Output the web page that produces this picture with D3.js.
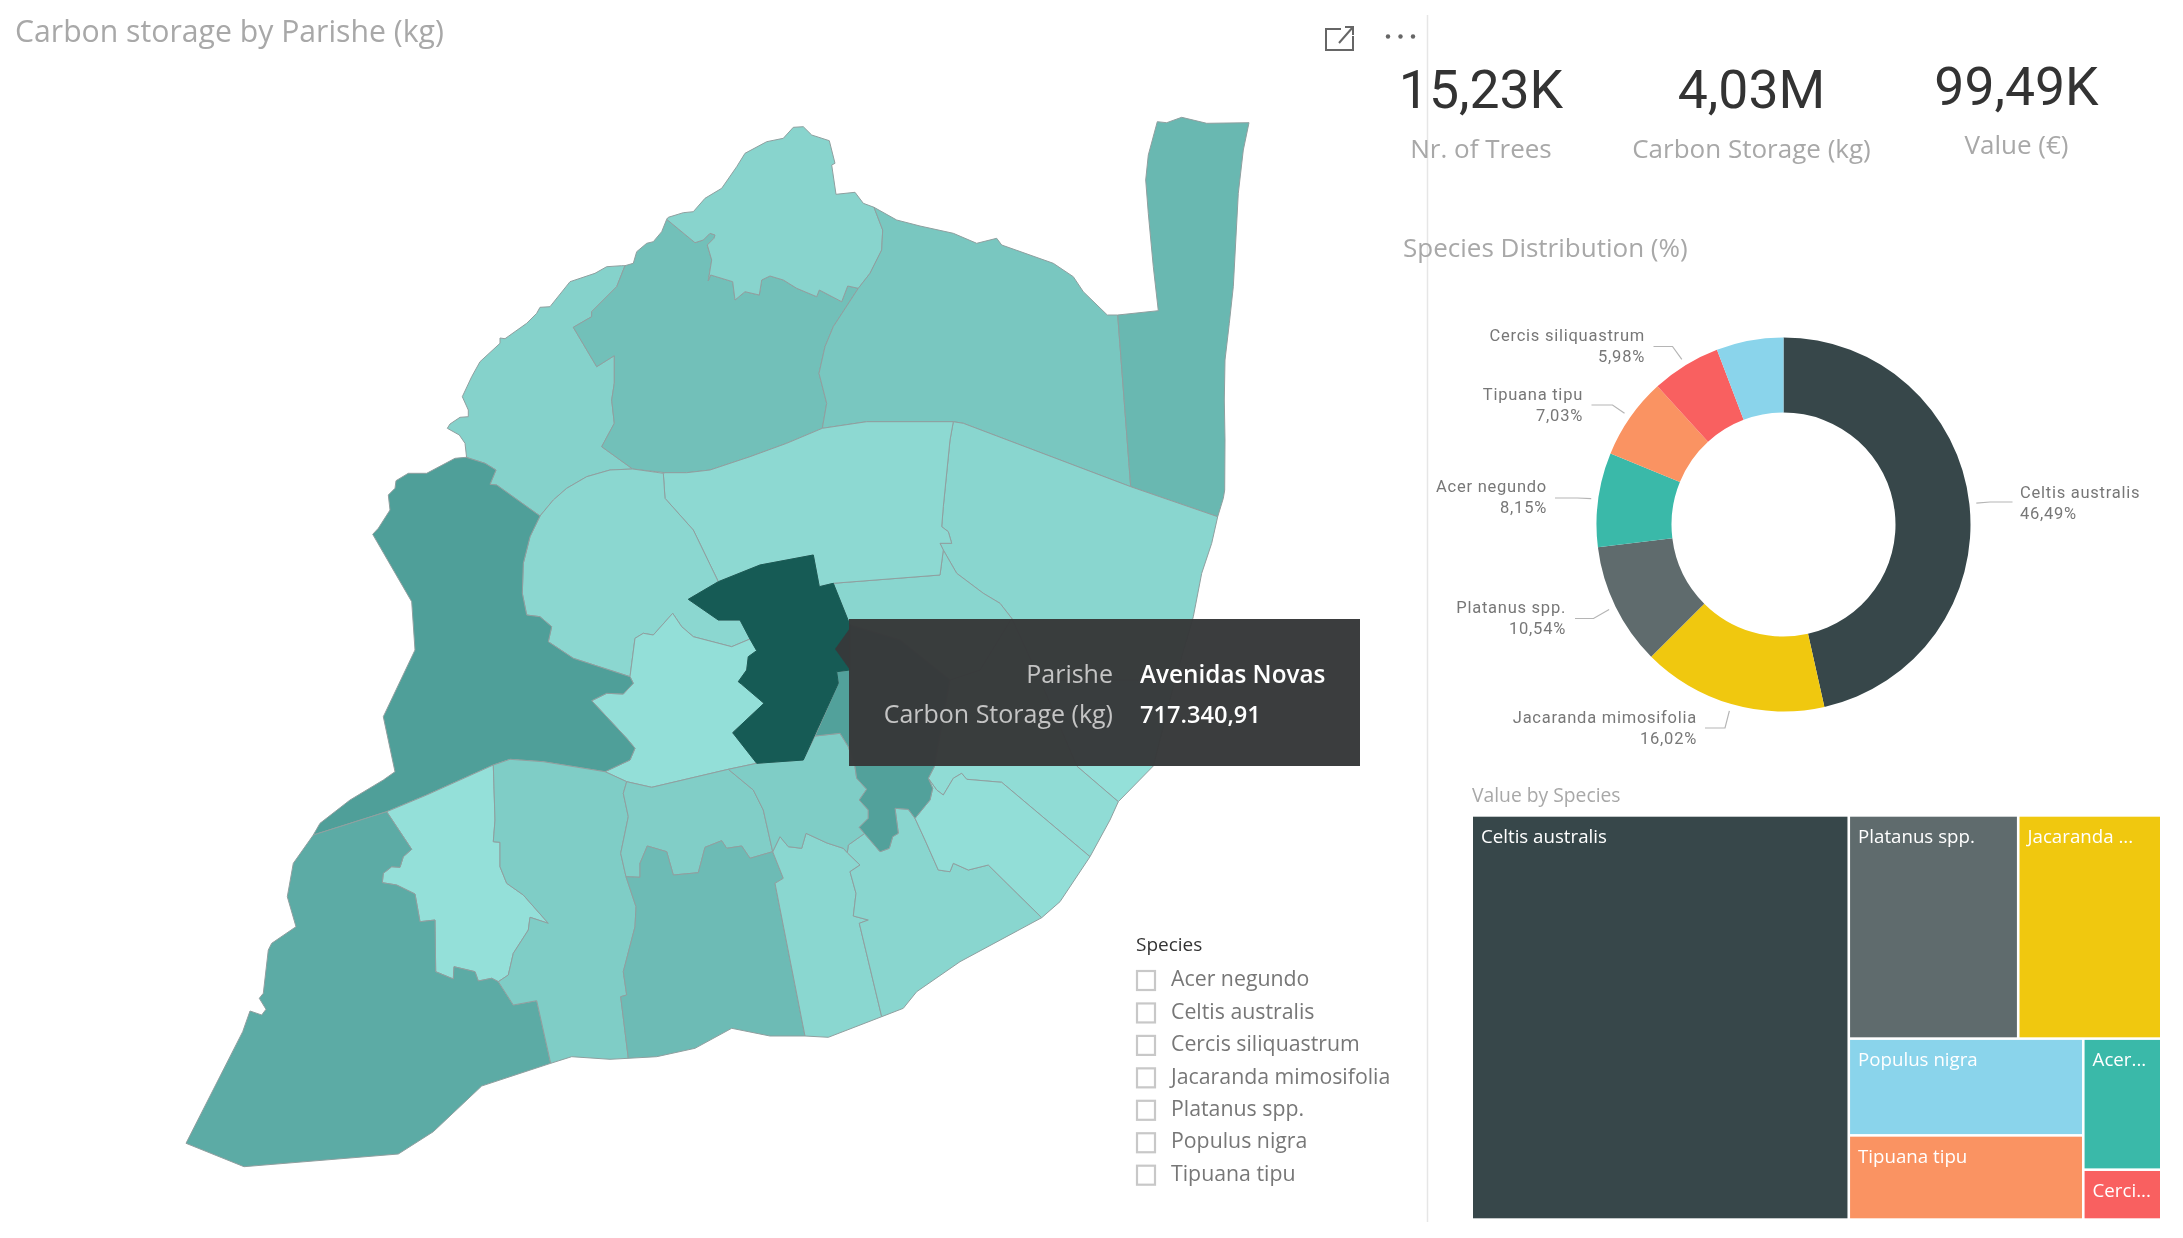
<!DOCTYPE html>
<html><head><meta charset="utf-8">
<style>html,body{margin:0;background:#fff}svg{display:block;filter:blur(.45px)}</style>
<script src="https://cdn.jsdelivr.net/npm/d3@7"></script></head><body><svg id="c" width="2183" height="1238"></svg>
<script>
// ---------- data ----------
const kpiValues=["15,23K","4,03M","99,49K"];
const kpiLabels=["Nr. of Trees","Carbon Storage (kg)","Value (€)"];
const species=["Acer negundo","Celtis australis","Cercis siliquastrum","Jacaranda mimosifolia","Platanus spp.","Populus nigra","Tipuana tipu"];
const donutSpecies=["Celtis australis","Jacaranda mimosifolia","Platanus spp.","Acer negundo","Tipuana tipu","Cercis siliquastrum","Populus nigra"];
const donutShare=[46.49,16.02,10.54,8.15,7.03,5.98,5.79];
const donutText=["46,49%","16,02%","10,54%","8,15%","7,03%","5,98%",""];
const speciesColors=["#37474a","#f0c80f","#5f6b6d","#3ab9a9","#fa9362","#f96060","#8ad4eb"];
const treeValues={"Celtis australis":54.4,"Platanus spp.":13.5,"Jacaranda mimosifolia":11.4,"Populus nigra":8.1,"Tipuana tipu":7.05,"Acer negundo":3.65,"Cercis siliquastrum":1.39};
const treeLabels={"Celtis australis":"Celtis australis","Platanus spp.":"Platanus spp.","Jacaranda mimosifolia":"Jacaranda ...","Populus nigra":"Populus nigra","Tipuana tipu":"Tipuana tipu","Acer negundo":"Acer...","Cercis siliquastrum":"Cerci..."};

// shared parish boundaries, in map units
const rev=a=>a.slice().reverse();
const carCoast=[[466.7,458.3],[465,443.3],[459.3,435],[447.3,428.3],[450,424],[460,417.3],[468.3,416.7],[468.3,410],[462.3,396.7],[471.7,376.7],[480,361.7],[500,343.3],[500,338],[505,338.7],[526.7,323.3],[536.7,313.3],[540,307.3],[550,306.7],[570,281.7],[595,273.3],[606.7,266.7],[621.7,265.7],[625,265.7]];
const carLum=[[625,265.7],[616.7,286.7],[591.7,311.7],[591.7,316.7],[573.3,327.3],[596.7,366.7],[614.3,355.7],[614.3,383.3],[611.7,400],[614.3,423.3],[601.7,446.7],[632.7,469]];
const carSdb=[[632.7,469],[610,470],[586.7,476.7],[566.7,488.3],[553.3,500],[540,516]];
const carBen=[[540,516],[496.7,485],[490,484.3],[496,470],[485,463.3],[466,457.3]];
const lumCoast=[[625,265.7],[633.3,263.3],[636.7,251.7],[646.7,243.3],[653.3,241.7],[661.7,231.7],[666.7,219.3]];
const lumSc=[[666.7,219.3],[695,242.7],[703.3,240],[710,233.3],[715,235],[714,238.3],[707.3,245],[711.7,260],[708.3,280.7],[710.7,275],[732.7,281.7],[735,300],[745,291.7],[759.3,295],[761.7,280],[770,276],[783.3,280],[796.7,288.3],[816.7,296.7],[819.3,290],[841.7,301.7],[847.7,286],[858.3,288.3]];
const lumOl=[[858.3,288.3],[833.3,326.7],[825,346.7],[819,373.3],[826.7,403.3],[822.3,428.3]];
const lumAlv=[[822.3,428.3],[786.7,443.3],[750,456.7],[710,470],[686.7,472.7],[665,472.7]];
const scCoast=[[666.7,219.3],[668.3,217.3],[683.3,212.7],[693.3,211.7],[705,198.3],[721.7,188.3],[736.7,166.7],[745,153.3],[766.7,141.7],[783.3,138.3],[793.3,127.3],[803.3,126.7],[811.7,135],[829.3,140.7],[835,163.3],[831.7,165],[836,194.3],[855,192.3],[863.3,203.3],[874,207.3]];
const scOl=[[874,207.3],[882.7,230],[881.7,250],[870,273.3],[858.3,288.3]];
const olCoast=[[874,207.3],[896.7,220],[920,226],[953.3,233.3],[976.7,243.3],[996.7,238.3],[1001.7,245],[1053.3,263.3],[1073.3,276.7],[1083.3,291.7],[1107.3,315]];
const olPn=[[1107.3,315],[1117.7,315],[1130.7,486.7]];
const olAlv=[[1130.7,486.7],[963.3,423.3],[953.3,421.7],[866.7,421.7],[822.3,428.3]];
const alvMar=[[953.3,421.7],[950,440],[943.3,506.7],[941.7,526.7],[948.3,531.7],[951.7,543.3],[940,543.3],[943.3,550]];
const marAre=[[943.3,550],[956.7,573.3],[983.3,593.3],[1000,603.3],[1011.7,618.3]];
const alvAre=[[943.3,550],[940,575],[833.3,583.3],[819.3,586.7]];
const avTop=[[819.3,586.7],[813.3,555],[760,565],[718.3,581.7]];
const alvSdb=[[718.3,581.7],[693.3,530],[665,498.3],[663.3,473.3],[665,472.7]];
const avSdb=[[718.3,581.7],[688.3,599.3],[718.3,620],[740,620],[750,639]];
const sdbCam=[[750,639],[731.7,646.7],[693.3,636.7],[681.7,626.7],[672.7,613.3],[653.3,635],[643.3,633.3],[635,638.3],[630,676.7]];
const sdbBen=[[630,676.7],[573.3,658.3],[548.3,641.7],[551.7,626.7],[540,616.7],[526.7,615],[522.3,593.3],[523.3,563.3],[530,536.7],[540,516]];
const camBen=[[630,676.7],[633.3,683.3],[623.3,694],[606.7,693.3],[591.7,700.7],[626.7,738.3],[635,748.3],[630,760],[605,771.7]];
const camAv=[[750,639],[756.7,650.7],[748.3,656.7],[746.7,670],[738.3,681.7],[741.7,684.3],[764,703.3],[732.7,732.7],[756.7,763.3]];
const camSouth=[[605,771.7],[626.7,781.7],[651.7,787.3],[728.3,769.3],[756.7,763.3]];
const benSouth=[[605,771.7],[543.3,761.7],[510,759.3],[493.3,765],[460,780],[426.7,795],[386.7,811.7],[313.3,835]];
const benWest=[[313.3,835],[320,823.3],[350,800],[383.3,780],[395,771.7],[383.3,716.7],[415,650],[411.7,601.7],[372.7,534.3],[378.3,528.3],[390,510],[388.3,495],[395,488.3],[396,480.7],[408.3,473.3],[426.7,473.3],[455,458.3],[466,457.3]];
const ajuBel=[[386.7,811.7],[411.7,849.3],[403.3,856.7],[400,867.3],[391.7,866.7],[383.3,873.3],[382.3,882.7],[396.7,885],[415,894],[420,921.7],[435,920],[435.7,971.7],[453.3,979],[454,966.7],[475,971.7],[478.3,981],[491.7,978.3],[498.3,981.7]];
const ajuAlc=[[498.3,981.7],[508.3,975],[513.3,953.3],[528.3,930],[530,917.3],[548.3,923.3],[523.3,895],[506.7,883.3],[500,866.7],[500,842.3],[493.3,841.7],[495,820],[493.3,765]];
const alcCo=[[626.7,781.7],[623.3,793.3],[628.3,816.7],[620.7,853.3],[626,876.7]];
const alcEs=[[626,876.7],[636,906.7],[635,926.7],[623.3,971.7],[626.7,995],[620.7,996.7],[628.3,1058.3]];
const coEs=[[626,876.7],[640,877.3],[640,863.3],[647.3,846],[666.7,851.7],[673.3,875],[698.3,872.7],[705,847.3],[721.7,840.7],[726.7,848.3],[741.7,846],[750,858.3],[772.7,851.7]];
const coSa=[[772.7,851.7],[763.3,810],[753.3,790],[728.3,769.3]];
const saMi=[[772.7,851.7],[780,836.7],[788.3,846.7],[801.7,848.3],[806,833.3],[827,843],[843.3,848.3],[847.3,852.7]];
const miEs=[[772.7,851.7],[783.3,878.3],[775,883.3],[805,1036]];
const miSm=[[847.3,852.7],[860,865],[850,871.7],[856,893.3],[853.3,916],[868.3,920],[859.3,923.3],[881.7,1016.7]];
const smVi=[[915,818.3],[925,840],[938.3,870],[950,871.7],[953.3,863.3],[968.3,870],[988.3,865],[1041.7,917.7]];
const viPe=[[928.3,778.3],[936.7,790],[943.3,795],[953.3,778.3],[961.7,773.3],[966.7,779.3],[1001.7,782.3],[1090,856.7]];
const arrSa=[[815,736],[840,733.3],[848.3,746.7],[855,766.7],[856.7,778.3],[866.7,789.3],[859.3,800],[868.3,810],[868.3,818.3],[859.3,827.3],[864.5,833.5]];
const arrSm=[[864.5,833.5],[880,851.7],[889.3,848.3],[892.7,836.7],[898.3,833.3],[895,808.3],[908.3,809.3],[915,818.3]];
const arrVi=[[915,818.3],[930,800],[932.7,788.3],[928.3,778.3]];
const arrPe=[[928.3,778.3],[934.3,766.7],[950,680],[900,640],[850,625]];

const parishNames=["Carnide","Lumiar","Santa Clara","Olivais","Parque das Nações","Marvila","Beato","Penha de França","Areeiro","Alvalade","São Domingos de Benfica","Campolide","Benfica","Ajuda","Belém","Alcântara","Campo de Ourique","Estrela","Misericórdia","Santa Maria Maior","São Vicente","Santo António","Arroios","Avenidas Novas"];
const parishValues=[100000,165000,90000,140000,200000,85000,48000,62000,85000,72000,80000,52000,300000,48000,250000,118000,112000,185000,82000,85000,55000,118000,290000,717340.91];
const parishRings=[
 [...carCoast,...carLum,...carSdb,...carBen],
 [...lumCoast,...lumSc,...lumOl,...lumAlv,[632.7,469],...rev(carLum)],
 [...scCoast,...scOl,...rev(lumSc)],
 [...olCoast,...olPn,...olAlv,...rev(lumOl),...rev(scOl)],
 [[1148.3,155],[1157.3,121.7],[1166.7,122.7],[1181.7,117.3],[1206.7,123.3],[1249,122.7],[1243.3,150],[1238.3,193.3],[1233.3,286.7],[1229.3,323.3],[1225,360],[1224.3,400],[1225,440],[1224.7,490],[1223.3,498.3],[1217.7,516.7],[1130.7,486.7],[1117.7,315],[1158.3,310.7],[1153.3,266.7],[1148.3,213.3],[1145.7,180]],
 [[953.3,421.7],[963.3,423.3],[1130.7,486.7],[1217.7,516.7],[1211.7,543.3],[1201.7,573.3],[1193.3,616.7],[1175,680],[1040,680],[1011.7,618.3],...rev(marAre),...rev(alvMar)],
 [[1175,680],[1153.3,766],[1118.3,801.7],[1076.7,766],[1040,680]],
 [[1011.7,618.3],[1040,680],[1076.7,766],[1118.3,801.7],[1110,820],[1090,856.7],...rev(viPe),[934.3,766.7],[950,680],[980,670]],
 [[833.3,583.3],[940,575],[943.3,550],...marAre,[980,670],[950,680],[900,640],[850,625]],
 [...rev(olAlv).slice(0,3),...alvMar,...alvAre,...avTop,...alvSdb,[686.7,472.7],[710,470],[750,456.7],[786.7,443.3],[822.3,428.3]],
 [...rev(carSdb),[663.3,473.3],[665,498.3],[693.3,530],[718.3,581.7],[688.3,599.3],[718.3,620],[740,620],[750,639],...sdbCam.slice(1),...sdbBen.slice(1)],
 [...camBen,...camSouth,...rev(camAv),...sdbCam.slice(1)],
 [...benWest,...rev(carBen),...rev(sdbBen),...camBen,...benSouth],
 [...ajuBel,...ajuAlc,[460,780],[426.7,795]],
 [[313.3,835],[293.3,863.3],[287.3,896.7],[296,926.7],[271.7,943.3],[268.3,950],[263.3,993.3],[259.3,998.3],[266,1009.3],[261.7,1015],[250,1011],[242.7,1031.7],[186,1143.3],[244,1166.7],[398.3,1154],[433.3,1131.7],[481.7,1086],[550.7,1063.3],[536.7,1000.7],[513.3,1005],[498.3,981.7],...rev(ajuBel)],
 [[493.3,765],[510,759.3],[543.3,761.7],[605,771.7],...alcCo,...alcEs,[610,1059.3],[571.7,1056.7],[550.7,1063.3],[536.7,1000.7],[513.3,1005],...ajuAlc],
 [[626.7,781.7],[651.7,787.3],[728.3,769.3],...rev(coSa),...rev(coEs),...rev(alcCo)],
 [...coEs,...miEs.slice(1),[770,1036],[731.7,1028.3],[695,1048.3],[656.7,1056.7],[628.3,1058.3],...rev(alcEs)],
 [...saMi,...miSm,[828.3,1037.3],[805,1036],...rev(miEs)],
 [[847.3,852.7],[848.3,845],...arrSm,...smVi.slice(1),[960,961.7],[916.7,991.7],[903.3,1008.3],[881.7,1016.7],...rev(miSm)],
 [...smVi,[1060,901.7],[1090,856.7],...rev(viPe),...rev(arrVi).slice(1)],
 [[728.3,769.3],[756.7,763.3],[803.3,760],...arrSa,[848.3,845],...rev(saMi),...coSa.slice(1)],
 [[836.7,671.7],[838.3,683.3],...arrSa,...arrSm.slice(1),...arrVi.slice(1),...arrPe.slice(1),[850,670]],
 [...avTop,...avSdb.slice(1),...camAv.slice(1),[803.3,760],[838.3,683.3],[836.7,671.7],[850,670],[850,625],[833.3,583.3]]
];
// donut label layout: text anchor x, first line y, leader elbow x, leader end x, leader y
const donutLabelX=[2020,1697,1566,1547,1583,1645];
const donutLabelY=[494,718.5,608.5,488,395.5,336.5];
const donutElbowX=[1990,1725,1593.5,1577.5,1612.5,1672.5];
const donutTailX=[2012.5,1705,1575,1555,1591.5,1653.5];
const donutLeaderY=[502,728,618.5,498,405,346.5];

// ---------- helpers ----------
const svg=d3.select("#c");
const segoe="'Open Sans',sans-serif", din="Roboto,sans-serif", grey="#a8a8a8";
const txt=(x,y,s,size,fill,anchor,font,extra)=>{const t=svg.append("text").attr("x",x).attr("y",y).attr("font-family",font||segoe).attr("font-size",size).attr("fill",fill).attr("text-anchor",anchor||"start").attr("dominant-baseline","middle").text(s);if(extra)for(const k in extra)t.attr(k,extra[k]);return t;};

// ---------- map ----------
const colorScale=d3.scaleLinear().domain([48000,150000,300000,717340.91]).range(["#94e0d9","#76c4bd","#4f9f99","#165b55"]);
const geoPath=d3.geoPath(d3.geoIdentity());
svg.append("g").selectAll("path").data(parishNames).join("path")
 .attr("d",(d,i)=>geoPath({type:"Polygon",coordinates:[[...parishRings[i],parishRings[i][0]]]}))
 .attr("fill",(d,i)=>colorScale(parishValues[i]))
 .attr("stroke",(d,i)=>i===23?"#165b55":"#8f9f9f").attr("stroke-width",1).attr("stroke-linejoin","round");

txt(15,34,"Carbon storage by Parishe (kg)",30.2,grey);
// focus icon + menu dots
svg.append("path").attr("d","M1341 29H1326V50H1353V36M1339 43L1353 27M1345 27H1353V35").attr("fill","none").attr("stroke","#666").attr("stroke-width",2);
svg.append("g").selectAll("circle").data([0,1,2]).join("circle").attr("cx",d=>1388+d*12.5).attr("cy",36.5).attr("r",2.2).attr("fill","#666");
svg.append("line").attr("x1",1427.5).attr("x2",1427.5).attr("y1",15).attr("y2",1222).attr("stroke","#e6e6e6").attr("stroke-width",1.5);

// tooltip
svg.append("path").attr("d","M835 649L850 628V670Z").attr("fill","#37393a").attr("fill-opacity",.96);
svg.append("rect").attr("x",849).attr("y",619).attr("width",511).attr("height",147).attr("fill","#37393a").attr("fill-opacity",.98);
txt(1113,676.5,"Parishe",25,"#c4c4c4","end");
txt(1113,716.5,"Carbon Storage (kg)",25,"#c4c4c4","end");
txt(1140,676.5,"Avenidas Novas",24.3,"#fff","start",null,{"font-weight":600});
txt(1140,716.5,"717.340,91",23.6,"#fff","start",null,{"font-weight":600});

// legend
txt(1136,946,"Species",19,"#333");
species.forEach((s,i)=>{const y=980.5+i*32.45;
 svg.append("rect").attr("x",1137).attr("y",y-9.5).attr("width",18).attr("height",19).attr("fill","#fff").attr("stroke","#c8c8c8").attr("stroke-width",2.2);
 txt(1171,y,s,21.3,"#777");});

// KPIs
const kpiX=[1481,1751.5,2016.5],kpiY=[94,94,90.5],kpiLY=[151,151,147.5];
kpiValues.forEach((v,i)=>{txt(kpiX[i],kpiY[i],v,53.5,"#333","middle",din);txt(kpiX[i],kpiLY[i],kpiLabels[i],26,grey,"middle");});

// donut
txt(1403,250,"Species Distribution (%)",26,grey);
const cx=1783.5,cy=524.5,R=187,r0=112;
const pieData=d3.pie().sort(null)(donutShare);
const arc=d3.arc().innerRadius(r0).outerRadius(R);
svg.append("g").attr("transform",`translate(${cx},${cy})`).selectAll("path").data(pieData).join("path").attr("d",arc).attr("fill",(d,i)=>speciesColors[i]);
pieData.slice(0,6).forEach((p,i)=>{
 const a=(p.startAngle+p.endAngle)/2, sx=cx+194*Math.sin(a), sy=cy-194*Math.cos(a);
 svg.append("path").attr("d",d3.line()([[sx,sy],[donutElbowX[i],donutLeaderY[i]],[donutTailX[i],donutLeaderY[i]]])).attr("fill","none").attr("stroke","#b5b5b5").attr("stroke-width",1.2);
 const anc=i===0?"start":"end";
 txt(donutLabelX[i],donutLabelY[i],donutSpecies[i],16.5,"#777",anc,din,{"letter-spacing":.75});
 txt(donutLabelX[i],donutLabelY[i]+20.7,donutText[i],16.5,"#777",anc,din,{"letter-spacing":.75});
});

// treemap
txt(1472,796.5,"Value by Species",19.3,grey);
const col=n=>speciesColors[donutSpecies.indexOf(n)];
const leaf=n=>({name:n,value:treeValues[n]});
const treeRoot=d3.hierarchy({children:[leaf("Celtis australis"),{children:[
 {children:[leaf("Platanus spp."),leaf("Jacaranda mimosifolia")]},
 {children:[{children:[leaf("Populus nigra"),leaf("Tipuana tipu")]},{children:[leaf("Acer negundo"),leaf("Cercis siliquastrum")]}]}
]}]}).sum(d=>d.value||0);
const tile=(node,x0,y0,x1,y1)=>(node.depth===1||node.depth===3?d3.treemapSlice:d3.treemapDice)(node,x0,y0,x1,y1);
d3.treemap().size([687,401.6]).paddingInner(2.6).tile(tile)(treeRoot);
const tg=svg.append("g").attr("transform","translate(1473,816.7)");
tg.selectAll("rect").data(treeRoot.leaves()).join("rect").attr("x",d=>d.x0).attr("y",d=>d.y0).attr("width",d=>d.x1-d.x0).attr("height",d=>d.y1-d.y0).attr("fill",d=>col(d.data.name));
tg.selectAll("text").data(treeRoot.leaves()).join("text").attr("x",d=>d.x0+8).attr("y",d=>d.y0+21.5).attr("dominant-baseline","middle").attr("font-family",segoe).attr("font-size",18.7).attr("fill","#fff").text(d=>treeLabels[d.data.name]);
</script></body></html>
